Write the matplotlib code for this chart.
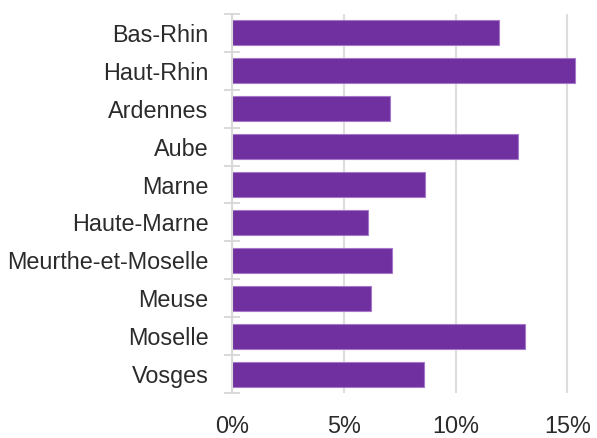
import matplotlib.pyplot as plt
from matplotlib.ticker import FuncFormatter

departements = ['Bas-Rhin', 'Haut-Rhin', 'Ardennes', 'Aube', 'Marne',
                'Haute-Marne', 'Meurthe-et-Moselle', 'Meuse', 'Moselle', 'Vosges']
values = [11.93, 15.35, 7.07, 12.8, 8.64, 6.09, 7.16, 6.2, 13.1, 8.6]
xticks = [0, 5, 10, 15]

plt.rcParams['font.family'] = ['Liberation Sans', 'DejaVu Sans']

fig = plt.figure(figsize=(5.97, 4.38), dpi=100)
ax = fig.add_axes([232 / 597, 1 - 393 / 438, (578.5 - 232) / 597, (393 - 14) / 438])

pos = list(range(len(departements)))
ax.barh(pos, values, height=0.66, color='#7030A0', edgecolor='#a578c9',
        linewidth=0.8, zorder=3)

ax.set_ylim(len(departements) - 0.5, -0.5)
ax.set_xlim(0, 15.5)

ax.set_yticks(pos)
ax.set_yticklabels(departements)
ax.set_yticks([p - 0.5 for p in pos] + [len(pos) - 0.5], minor=True)
ax.tick_params(axis='y', which='major', length=0, pad=17, labelsize=16.8,
               labelcolor='#2b2b2b')
ax.tick_params(axis='y', which='minor', direction='inout', length=11,
               width=1.4, color='#d9d9d9')

ax.set_xticks(xticks)
ax.xaxis.set_major_formatter(FuncFormatter(lambda v, p: f'{v:.0f}%'))
ax.tick_params(axis='x', length=0, pad=16, labelsize=16.8, labelcolor='#2b2b2b')
ax.grid(axis='x', color='#dddddd', linewidth=1.5, zorder=0)

for s in ['top', 'right', 'bottom']:
    ax.spines[s].set_visible(False)
ax.spines['left'].set_color('#d9d9d9')
ax.spines['left'].set_linewidth(1.5)
ax.spines['left'].set_zorder(4)

fig.savefig('out.png', dpi=100)
